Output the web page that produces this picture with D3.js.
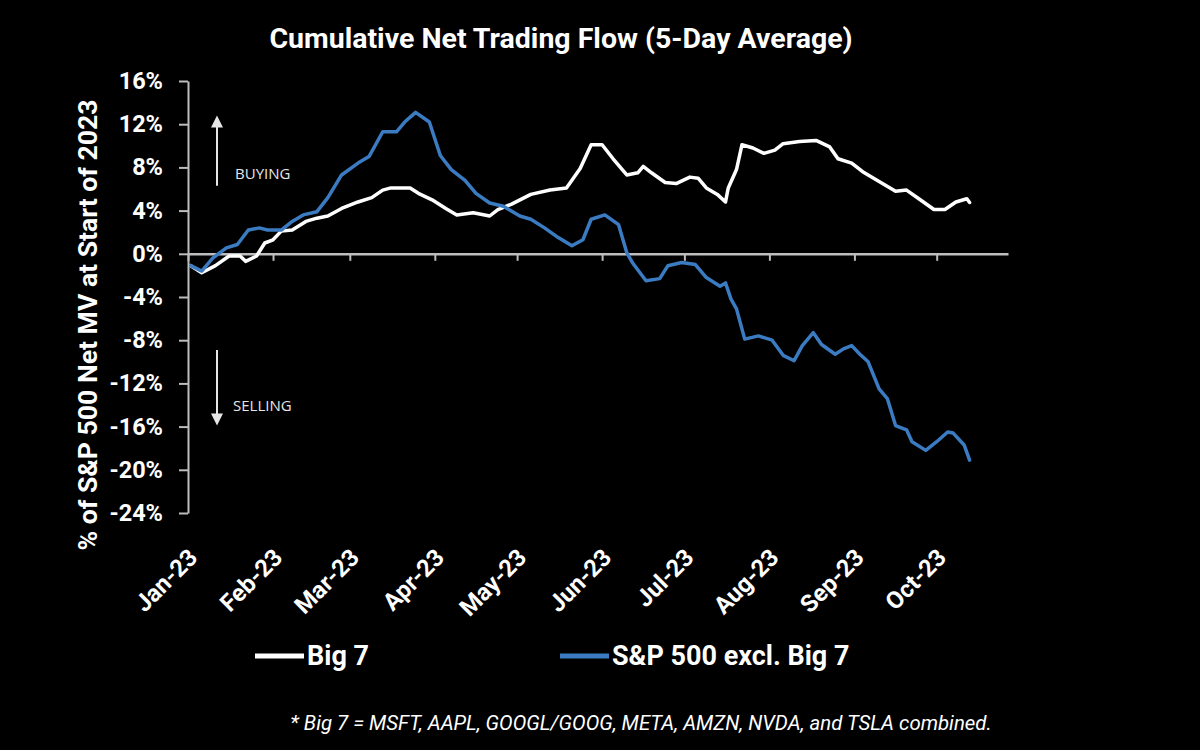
<!DOCTYPE html>
<html>
<head>
<meta charset="utf-8">
<script src="https://cdn.jsdelivr.net/npm/d3@7"></script>
<style>
  html, body { margin: 0; padding: 0; background: #000; }
  svg { display: block; }
</style>
</head>
<body>
<div id="chart"></div>
<script>
// values (percent of S&P 500 net MV at start of 2023)
const big7Dates = ["2023-01-02","2023-01-06","2023-01-11","2023-01-16","2023-01-20","2023-01-22","2023-01-26","2023-01-29",
    "2023-02-01","2023-02-04","2023-02-08","2023-02-13","2023-02-17","2023-02-21","2023-02-26","2023-03-04","2023-03-09",
    "2023-03-13","2023-03-16","2023-03-23","2023-03-26","2023-03-31","2023-04-05","2023-04-09","2023-04-15","2023-04-21",
    "2023-04-24","2023-04-29","2023-05-06","2023-05-13","2023-05-19","2023-05-24","2023-05-28","2023-06-01","2023-06-05",
    "2023-06-10","2023-06-14","2023-06-16","2023-06-19","2023-06-24","2023-06-28","2023-07-03","2023-07-06","2023-07-09",
    "2023-07-13","2023-07-16","2023-07-17","2023-07-20","2023-07-22","2023-07-26","2023-07-30","2023-08-03","2023-08-06",
    "2023-08-12","2023-08-18","2023-08-23","2023-08-26","2023-08-31","2023-09-04","2023-09-10","2023-09-16","2023-09-20",
    "2023-09-25","2023-09-30","2023-10-04","2023-10-08","2023-10-12","2023-10-13"];
const big7Values = [-1.1, -1.75, -1.1, -0.2, -0.2, -0.7, -0.2, 1.0,
    1.3, 2.1, 2.2, 3.0, 3.3, 3.5, 4.2, 4.8, 5.2,
    5.9, 6.1, 6.1, 5.6, 5.0, 4.2, 3.6, 3.8, 3.5,
    4.1, 4.6, 5.5, 5.9, 6.1, 7.9, 10.1, 10.1, 8.8,
    7.3, 7.5, 8.1, 7.5, 6.6, 6.5, 7.1, 7.0, 6.1,
    5.5, 4.8, 6.1, 7.8, 10.1, 9.8, 9.3, 9.6, 10.2,
    10.4, 10.5, 9.9, 8.8, 8.4, 7.6, 6.7, 5.8, 5.9,
    5.0, 4.1, 4.1, 4.8, 5.1, 4.75];

const exBig7Dates = ["2023-01-02","2023-01-06","2023-01-10","2023-01-15","2023-01-19","2023-01-23","2023-01-27","2023-01-30",
    "2023-02-04","2023-02-08","2023-02-12","2023-02-17","2023-02-21","2023-02-26","2023-03-04","2023-03-08","2023-03-13",
    "2023-03-18","2023-03-21","2023-03-25","2023-03-30","2023-04-03","2023-04-07","2023-04-12","2023-04-16","2023-04-21",
    "2023-04-26","2023-05-02","2023-05-06","2023-05-11","2023-05-16","2023-05-21","2023-05-25","2023-05-28","2023-06-02",
    "2023-06-07","2023-06-10","2023-06-12","2023-06-17","2023-06-22","2023-06-25","2023-06-30","2023-07-05","2023-07-09",
    "2023-07-14","2023-07-16","2023-07-18","2023-07-20","2023-07-23","2023-07-28","2023-08-02","2023-08-06","2023-08-10",
    "2023-08-13","2023-08-17","2023-08-20","2023-08-25","2023-08-28","2023-08-31","2023-09-03","2023-09-06","2023-09-10",
    "2023-09-13","2023-09-16","2023-09-20","2023-09-22","2023-09-27","2023-10-01","2023-10-05","2023-10-07","2023-10-11",
    "2023-10-13"];
const exBig7Values = [-1.1, -1.6, -0.4, 0.55, 0.86, 2.2, 2.4, 2.2,
    2.2, 3.0, 3.6, 3.9, 5.2, 7.3, 8.4, 9.0, 11.3,
    11.3, 12.2, 13.1, 12.2, 9.1, 7.8, 6.8, 5.6, 4.7,
    4.4, 3.5, 3.2, 2.4, 1.5, 0.75, 1.3, 3.2, 3.6,
    2.7, 0.1, -0.8, -2.5, -2.3, -1.1, -0.8, -1.0, -2.2,
    -3.0, -2.7, -4.2, -5.1, -7.9, -7.6, -8.0, -9.4, -9.9,
    -8.5, -7.3, -8.4, -9.3, -8.8, -8.5, -9.3, -10.0, -12.5,
    -13.4, -15.9, -16.3, -17.4, -18.2, -17.4, -16.5, -16.6, -17.7,
    -19.1];

const seriesNames = ["Big 7", "S&P 500 excl. Big 7"];
const seriesColors = ["#ffffff", "#3a7bc2"];
const yTicks = [-24, -20, -16, -12, -8, -4, 0, 4, 8, 12, 16];
const xDomain = ["2023-01-01", "2023-10-27"];

const parseDate = d3.timeParse("%Y-%m-%d");
const series = [
    big7Dates.map((d, i) => ({date: parseDate(d), value: big7Values[i]})),
    exBig7Dates.map((d, i) => ({date: parseDate(d), value: exBig7Values[i]}))
];

const width = 1200, height = 750;
const plot = {left: 188, right: 1008, top: 81, bottom: 513};
const axisColor = "#bdbdbd";
const font = "Roboto, 'Liberation Sans', sans-serif";

const svg = d3.select("#chart").append("svg")
    .attr("width", width)
    .attr("height", height)
    .style("background", "#000");

const x = d3.scaleTime()
    .domain(xDomain.map(parseDate))
    .range([plot.left, plot.right]);

const y = d3.scaleLinear()
    .domain([-24, 16])
    .range([plot.bottom, plot.top]);

// title
svg.append("text")
    .attr("x", 561)
    .attr("y", 48)
    .attr("text-anchor", "middle")
    .attr("fill", "#fff")
    .style("font-family", font)
    .style("font-weight", 700)
    .style("font-size", "28.5px")
    .text("Cumulative Net Trading Flow (5-Day Average)");

// y axis title
svg.append("text")
    .attr("transform", `translate(97, 325) rotate(-90)`)
    .attr("text-anchor", "middle")
    .attr("fill", "#fff")
    .style("font-family", font)
    .style("font-weight", 700)
    .style("font-size", "26.6px")
    .text("% of S&P 500 Net MV at Start of 2023");

// y axis
const yAxis = svg.append("g")
    .attr("transform", `translate(${plot.left},0)`)
    .call(d3.axisLeft(y).tickValues(yTicks).tickSize(9).tickSizeOuter(0).tickPadding(16)
        .tickFormat(d => d + "%"));
yAxis.select(".domain").attr("stroke", axisColor).attr("stroke-width", 2);
yAxis.selectAll(".tick line").attr("stroke", axisColor).attr("stroke-width", 2);
yAxis.selectAll(".tick text")
    .attr("fill", "#fff")
    .style("font-family", font)
    .style("font-weight", 700)
    .style("font-size", "23.5px");

// x axis on the zero line, ticks only
const xAxis = svg.append("g")
    .attr("transform", `translate(0,${y(0)})`)
    .call(d3.axisBottom(x).ticks(d3.timeMonth.every(1)).tickSize(7).tickSizeOuter(0).tickFormat(""));
xAxis.select(".domain").attr("stroke", axisColor).attr("stroke-width", 2.5);
xAxis.selectAll(".tick line").attr("stroke", axisColor).attr("stroke-width", 2);

// month labels below the plot
const months = x.ticks(d3.timeMonth.every(1));
svg.append("g")
    .selectAll("text")
    .data(months)
    .join("text")
    .attr("transform", d => `translate(${x(d) + 5}, 553) rotate(-45)`)
    .attr("text-anchor", "end")
    .attr("dy", "0.35em")
    .attr("fill", "#fff")
    .style("font-family", font)
    .style("font-weight", 700)
    .style("font-size", "24px")
    .text(d3.timeFormat("%b-%y"));

// buying / selling annotations
const annot = svg.append("g").attr("fill", "#e6e6e6").attr("stroke", "#e6e6e6");
const arrowX = plot.left + 29;
function arrow(yFrom, yTo) {
    const dir = y(yTo) > y(yFrom) ? 1 : -1;
    annot.append("line")
        .attr("x1", arrowX).attr("x2", arrowX)
        .attr("y1", y(yFrom)).attr("y2", y(yTo) - dir * 10)
        .attr("stroke-width", 2);
    annot.append("path")
        .attr("stroke", "none")
        .attr("d", `M${arrowX - 6},${y(yTo) - dir * 12} L${arrowX + 6},${y(yTo) - dir * 12} L${arrowX},${y(yTo)} Z`);
}
arrow(6.3, 12.8);
arrow(-8.9, -15.9);
annot.append("text")
    .attr("x", arrowX + 18).attr("y", y(7.4))
    .attr("dy", "0.35em")
    .attr("stroke", "none")
    .style("font-family", "'Open Sans', sans-serif")
    .style("font-size", "15px")
    .text("BUYING");
annot.append("text")
    .attr("x", arrowX + 16).attr("y", y(-14.1))
    .attr("dy", "0.35em")
    .attr("stroke", "none")
    .style("font-family", "'Open Sans', sans-serif")
    .style("font-size", "15px")
    .text("SELLING");

// the two lines
const line = d3.line()
    .x(d => x(d.date))
    .y(d => y(d.value));

svg.append("g")
    .selectAll("path")
    .data(series)
    .join("path")
    .attr("fill", "none")
    .attr("stroke", (d, i) => seriesColors[i])
    .attr("stroke-width", 3.5)
    .attr("stroke-linejoin", "round")
    .attr("stroke-linecap", "round")
    .attr("d", line);

// legend
const legendX = [255, 560];
const legend = svg.append("g")
    .selectAll("g")
    .data(seriesNames)
    .join("g")
    .attr("transform", (d, i) => `translate(${legendX[i]}, 656)`);
legend.append("line")
    .attr("x1", 0).attr("x2", 49)
    .attr("stroke", (d, i) => seriesColors[i])
    .attr("stroke-width", 5);
legend.append("text")
    .attr("x", 52)
    .attr("dy", "0.35em")
    .attr("fill", "#fff")
    .style("font-family", font)
    .style("font-weight", 700)
    .style("font-size", "27px")
    .text(d => d);

// footnote
svg.append("text")
    .attr("x", 641)
    .attr("y", 730)
    .attr("text-anchor", "middle")
    .attr("fill", "#fff")
    .style("font-family", font)
    .style("font-style", "italic")
    .style("font-size", "20.4px")
    .text("* Big 7 = MSFT, AAPL, GOOGL/GOOG, META, AMZN, NVDA, and TSLA combined.");
</script>
</body>
</html>
